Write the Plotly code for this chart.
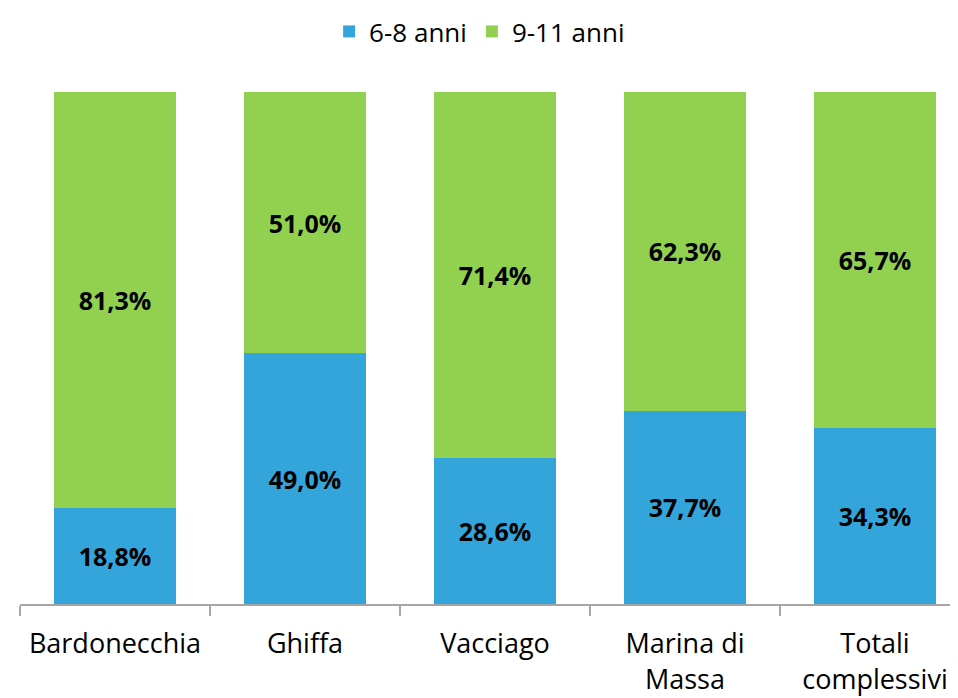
import plotly.graph_objects as go

categories = ["Bardonecchia", "Ghiffa", "Vacciago", "Marina di<br>Massa", "Totali<br>complessivi"]
age_6_8 = [18.8, 49.0, 28.6, 37.7, 34.3]
age_9_11 = [81.3, 51.0, 71.4, 62.3, 65.7]

fig = go.Figure()

fig.add_trace(go.Bar(
    x=categories, y=age_6_8, name="6-8 anni",
    marker=dict(color="#34A5DB", line=dict(width=0)),
    texttemplate="%{y:.1f}%", textposition="inside", insidetextanchor="middle",
    textfont=dict(color="black", size=25, family="Open Sans", weight="bold"),
))
fig.add_trace(go.Bar(
    x=categories, y=age_9_11, name="9-11 anni",
    marker=dict(color="#92D050", line=dict(width=0)),
    texttemplate="%{y:.1f}%", textposition="inside", insidetextanchor="middle",
    textfont=dict(color="black", size=25, family="Open Sans", weight="bold"),
))

# page body has an 8px margin, so the figure is 950x690
fig.update_layout(
    barmode="stack",
    bargap=0.353,
    separators=",.",
    width=950, height=690,
    plot_bgcolor="white", paper_bgcolor="white",
    font=dict(family="Open Sans", size=25, color="black"),
    uniformtext=dict(mode="show", minsize=10),
    margin=dict(t=84, b=94, l=12, r=0),
    legend=dict(
        orientation="h", x=0.49, xanchor="center", y=1.0, yanchor="top",
        yref="container", traceorder="normal", font=dict(size=26), itemwidth=30,
    ),
)

fig.update_xaxes(
    range=[-0.5, 4.437],
    showline=True, linecolor="#A6A6A6", linewidth=2,
    ticks="outside", tickson="boundaries", ticklen=10, tickcolor="#A6A6A6", tickwidth=2,
    ticklabelstandoff=15,
    tickfont=dict(size=27),
)
fig.update_yaxes(range=[0, 100], visible=False, showgrid=False)

fig.write_html("out.html")
